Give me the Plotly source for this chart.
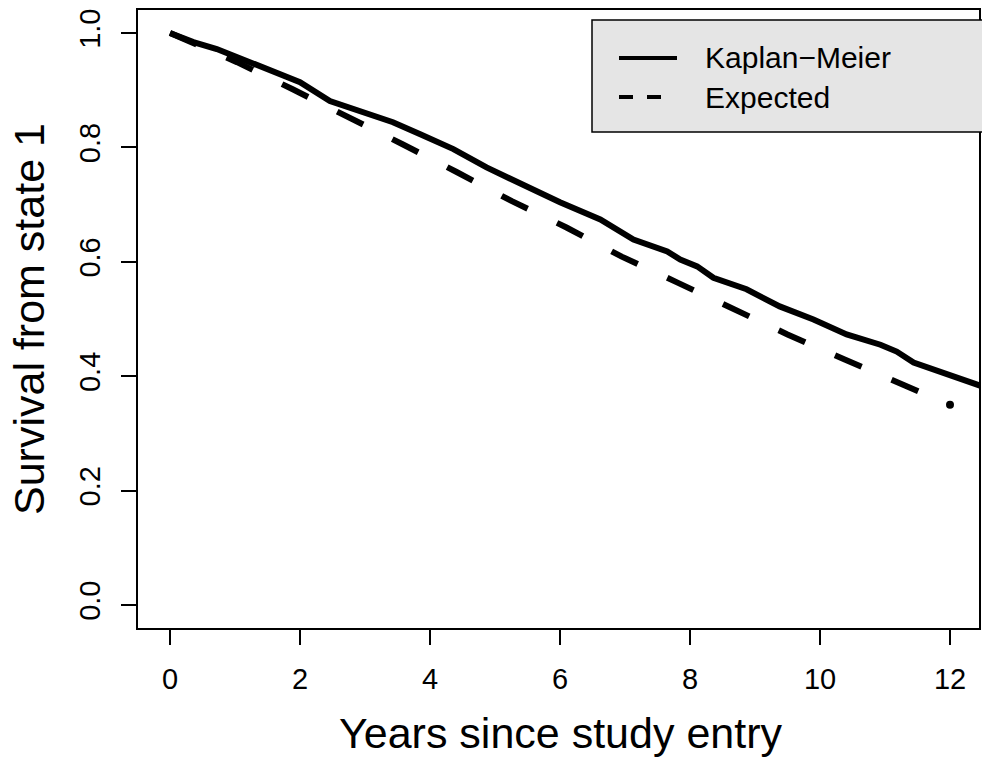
import plotly.graph_objects as go

# Kaplan-Meier estimate
km_time = [0.0, 0.36, 0.72, 1.23, 2.0, 2.46, 3.08, 3.43, 3.85, 4.1, 4.36, 4.87, 5.49,
           6.0, 6.62, 7.13, 7.65, 7.85, 8.11, 8.36, 8.87, 9.38, 9.9, 10.41, 10.93,
           11.18, 11.44, 11.95, 12.46, 12.6]
km_surv = [1.0, 0.984, 0.972, 0.949, 0.914, 0.881, 0.858, 0.844, 0.823, 0.809, 0.797,
           0.765, 0.732, 0.704, 0.674, 0.639, 0.618, 0.604, 0.592, 0.572, 0.552, 0.522,
           0.499, 0.473, 0.455, 0.443, 0.424, 0.403, 0.382, 0.378]

# Expected survival
exp_time = [0.0, 1.03, 1.88, 2.72, 3.57, 4.41, 5.26, 6.1, 6.95, 7.8, 8.66, 9.5,
            10.38, 11.26, 12.0]
exp_surv = [1.0, 0.949, 0.902, 0.855, 0.806, 0.757, 0.706, 0.660, 0.609, 0.564,
            0.517, 0.473, 0.429, 0.385, 0.350]

x_ticks = [0, 2, 4, 6, 8, 10, 12]
y_ticks = [0.0, 0.2, 0.4, 0.6, 0.8, 1.0]
y_tick_text = ["0.0", "0.2", "0.4", "0.6", "0.8", "1.0"]

legend_labels = ["Kaplan\u2212Meier", "Expected"]

FONT = "Liberation Sans, Arial, Helvetica, sans-serif"
W, H = 982, 759
L, R, T, B = 138, 3, 10, 131
PW, PH = W - L - R, H - T - B


def px_x(p):
    return (p - L) / PW


def px_y(p):
    return (H - B - p) / PH


fig = go.Figure()
fig.add_trace(go.Scatter(x=km_time, y=km_surv, mode="lines", name=legend_labels[0],
                         line=dict(color="black", width=6, shape="linear"),
                         showlegend=False))
fig.add_trace(go.Scatter(x=exp_time, y=exp_surv, mode="lines", name=legend_labels[1],
                         line=dict(color="black", width=6, dash="29px,32.6px"),
                         showlegend=False))
# end point of the expected curve (round dash cap in the original)
fig.add_trace(go.Scatter(x=exp_time[-1:], y=exp_surv[-1:], mode="markers",
                         name=legend_labels[1], hoverinfo="skip",
                         marker=dict(color="black", size=8, line=dict(width=0)),
                         showlegend=False))

axis_common = dict(showgrid=False, zeroline=False, showline=True, linecolor="black",
                   linewidth=2, mirror=True, ticks="outside", ticklen=15, tickwidth=2,
                   tickcolor="black", tickfont=dict(family=FONT, size=29, color="black"))

fig.update_xaxes(range=[(L - 170) / 65, (L + PW - 170) / 65], tickvals=x_ticks,
                 ticklabelstandoff=9, **axis_common)
fig.update_yaxes(range=[-23 / 572, 1 + 23 / 572], tickvals=y_ticks, ticktext=y_tick_text,
                 tickangle=-90, ticklabelstandoff=9, **axis_common)

shapes = []
annotations = []
# legend box
shapes.append(dict(type="rect", xref="paper", yref="paper", x0=px_x(592), x1=px_x(990),
                   y0=px_y(132), y1=px_y(20), fillcolor="#e5e5e5",
                   line=dict(color="black", width=1.5), layer="above"))
shapes.append(dict(type="line", xref="paper", yref="paper", x0=px_x(619), x1=px_x(677),
                   y0=px_y(58), y1=px_y(58), line=dict(color="black", width=4),
                   layer="above"))
shapes.append(dict(type="line", xref="paper", yref="paper", x0=px_x(619), x1=px_x(662),
                   y0=px_y(97), y1=px_y(97), line=dict(color="black", width=4,
                                                        dash="14px,14px"),
                   layer="above"))
for lbl, yp in zip(legend_labels, [58, 97]):
    annotations.append(dict(text=lbl, xref="paper", yref="paper", x=px_x(703), y=px_y(yp),
                            xanchor="left", yanchor="middle", showarrow=False,
                            font=dict(family=FONT, size=30, color="black")))

annotations.append(dict(text="Years since study entry", xref="paper", yref="paper",
                        x=px_x(560), y=px_y(733), xanchor="center", yanchor="middle",
                        showarrow=False, font=dict(family=FONT, size=43, color="black")))
annotations.append(dict(text="Survival from state 1", xref="paper", yref="paper",
                        x=px_x(29), y=px_y(319), xanchor="center", yanchor="middle",
                        textangle=-90, showarrow=False,
                        font=dict(family=FONT, size=43, color="black")))

fig.update_layout(width=W, height=H, margin=dict(l=L, r=R, t=T, b=B, autoexpand=False),
                  paper_bgcolor="white", plot_bgcolor="white", showlegend=False,
                  shapes=shapes, annotations=annotations)

fig.write_html("out.html")
